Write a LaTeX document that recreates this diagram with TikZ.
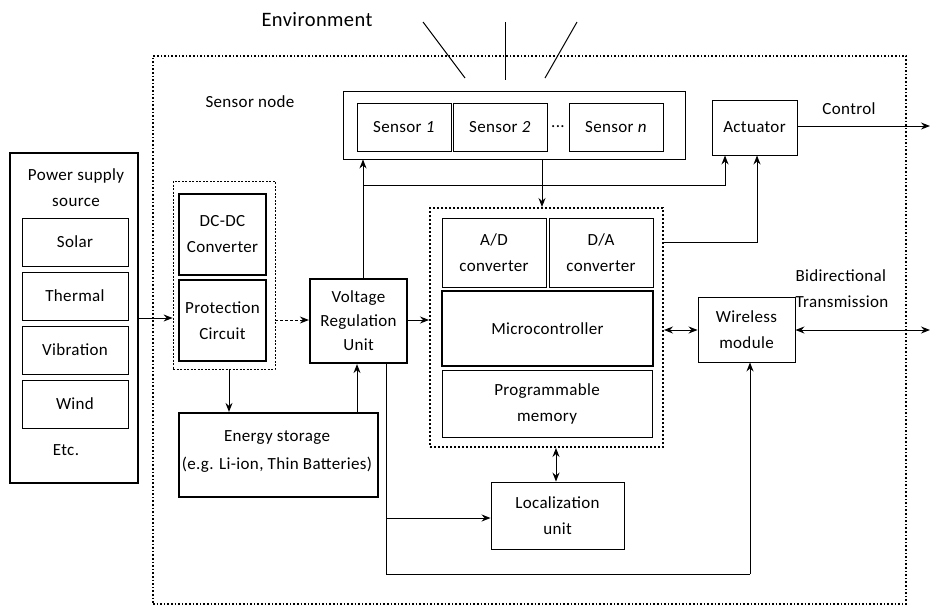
\documentclass[tikz,border=0pt]{standalone}
\usepackage{fontspec}
\setmainfont{Carlito}[LetterSpace=2]
\usetikzlibrary{arrows.meta,calc}
\begin{document}
\begin{tikzpicture}[x=1pt,y=-1pt,
  font=\fontsize{17}{20}\selectfont,
  box/.style={draw, line width=0.9pt, align=center, inner sep=0pt},
  thickbox/.style={draw, line width=2.2pt, align=center, inner sep=0pt},
  lbl/.style={align=center, inner sep=0pt},
  conn/.style={line width=1pt},
  arr/.style={conn, -{Stealth[length=9pt,width=7pt,inset=3pt]}},
  darr/.style={conn, {Stealth[length=9pt,width=7pt,inset=3pt]}-{Stealth[length=9pt,width=7pt,inset=3pt]}}
]
\useasboundingbox (0,0) rectangle (930,606);
% outer sensor node box
\node[draw, line width=1.6pt, dotted, minimum width=753pt, minimum height=548pt, inner sep=0pt] (outer) at (529.5,330) {};
\node[lbl] (envlbl) at (317,20) {\fontsize{20.5}{24}\selectfont Environment};
\node[lbl] (snlbl) at (250,102) {Sensor node};
% environment rays
\coordinate (e1a) at (423,22); \coordinate (e1b) at (465,78);
\coordinate (e2a) at (505,22); \coordinate (e2b) at (505,80);
\coordinate (e3a) at (577,22); \coordinate (e3b) at (545,78);
\draw[conn] (e1a) -- (e1b);
\draw[conn] (e2a) -- (e2b);
\draw[conn] (e3a) -- (e3b);
% power supply
\node[thickbox, minimum width=128pt, minimum height=330pt] (psrc) at (74,318) {};
\node[lbl] (pstxt) at (76,188) {Power supply\\[6pt]source};
\node[box, minimum width=106pt, minimum height=48pt] (solar) at (75,242) {Solar};
\node[box, minimum width=106pt, minimum height=48pt] (thermal) at (75,296) {Thermal};
\node[box, minimum width=106pt, minimum height=48pt] (vib) at (75,350) {Vibration};
\node[box, minimum width=106pt, minimum height=48pt] (wind) at (75,404) {Wind};
\node[lbl] (etc) at (66,450) {Etc.};
% DC-DC group
\node[draw, dashed, line width=0.8pt, dash pattern=on 2pt off 1.5pt, minimum width=102pt, minimum height=188pt, inner sep=0pt] (dcgrp) at (224,275) {};
\node[thickbox, minimum width=87pt, minimum height=81pt] (dcdc) at (222.5,234.5) {DC-DC\\[6pt]Converter};
\node[thickbox, minimum width=87pt, minimum height=81pt] (prot) at (222.5,320.5) {Protection\\[6pt]Circuit};
% voltage regulation
\node[thickbox, minimum width=97pt, minimum height=84pt] (vru) at (358.5,321) {Voltage\\[4pt]Regulation\\[4pt]Unit};
% energy storage
\node[thickbox, minimum width=199pt, minimum height=84pt] (estore) at (278.5,455) {};
\node[lbl] (estxt) at (277,451) {Energy storage\\[8pt](e.g. Li-ion, Thin Batteries)};
% sensors
\node[box, minimum width=342pt, minimum height=68pt] (sgrp) at (514,125) {};
\node[box, minimum width=94pt, minimum height=48pt] (s1) at (404,127) {Sensor \textit{1}};
\node[box, minimum width=94pt, minimum height=48pt] (s2) at (500,127) {Sensor \textit{2}};
\node[lbl] (sdots) at (558,127) {...};
\node[box, minimum width=94pt, minimum height=48pt] (sn) at (616,127) {Sensor \textit{n}};
% actuator
\node[box, minimum width=85pt, minimum height=55pt] (act) at (754.5,127.5) {Actuator};
\node[lbl] (ctrl) at (849,109) {Control};
% microcontroller group
\node[draw, dotted, line width=2pt, minimum width=233pt, minimum height=239pt, inner sep=0pt] (mcgrp) at (546.5,327.5) {};
\node[box, minimum width=104pt, minimum height=69pt] (ad) at (494,252.5) {A/D\\[6pt]converter};
\node[box, minimum width=104pt, minimum height=69pt] (da) at (601,252.5) {D/A\\[6pt]converter};
\node[thickbox, minimum width=211pt, minimum height=75pt] (mc) at (547.5,328.5) {Microcontroller};
\node[box, minimum width=210pt, minimum height=67pt] (pm) at (547,403.5) {Programmable\\[6pt]memory};
% wireless
\node[box, minimum width=97pt, minimum height=65pt] (wl) at (746.5,329.5) {Wireless\\[6pt]module};
\node[lbl, align=left] (bidir) at (842,289) {Bidirectional\\[6pt]Transmission};
% localization
\node[box, minimum width=133pt, minimum height=67pt] (loc) at (557.5,515.5) {Localization\\[6pt]unit};
% coordinates
\coordinate (ctrlend) at (930,126);
\coordinate (txend) at (930,330);
\coordinate (vtop) at (363,279);
\coordinate (jn) at (363,185);
\coordinate (vbot) at (386,363);
\coordinate (bl) at (386,574);
\coordinate (br) at (750,574);
\coordinate (lj) at (386,518);
\coordinate (daout) at (663,242);
\coordinate (dacorner) at (757,242);
% connectors
\draw[arr] (psrc.east |- 0,318) -- (dcgrp.west |- 0,318);
\draw[arr, dashed, dash pattern=on 3pt off 2pt] (dcgrp.east |- 0,320) -- (vru.west |- 0,320);
\draw[arr] (vru.east |- 0,320) -- (mcgrp.west |- 0,320);
\draw[arr] (dcgrp.south -| 229,0) -- (estore.north -| 229,0);
\draw[arr] (estore.north -| 357,0) -- (vru.south -| 357,0);
\draw[arr] (vtop) -- (sgrp.south -| vtop);
\draw[arr] (jn) -- (725,185) -- (act.south -| 725,0);
\draw[arr] (sgrp.south -| 542,0) -- (mcgrp.north -| 542,0);
\draw[arr] (daout) -- (dacorner) -- (act.south -| dacorner);
\draw[darr] (mcgrp.east |- 0,330) -- (wl.west |- 0,330);
\draw[darr] (wl.east |- 0,330) -- (txend);
\draw[arr] (act.east |- ctrlend) -- (ctrlend);
\draw[darr] (mcgrp.south -| 556,0) -- (loc.north -| 556,0);
\draw[conn] (vbot) -- (bl) -- (br);
\draw[arr] (br) -- (wl.south -| br);
\draw[arr] (lj) -- (loc.west |- lj);
\end{tikzpicture}
\end{document}
